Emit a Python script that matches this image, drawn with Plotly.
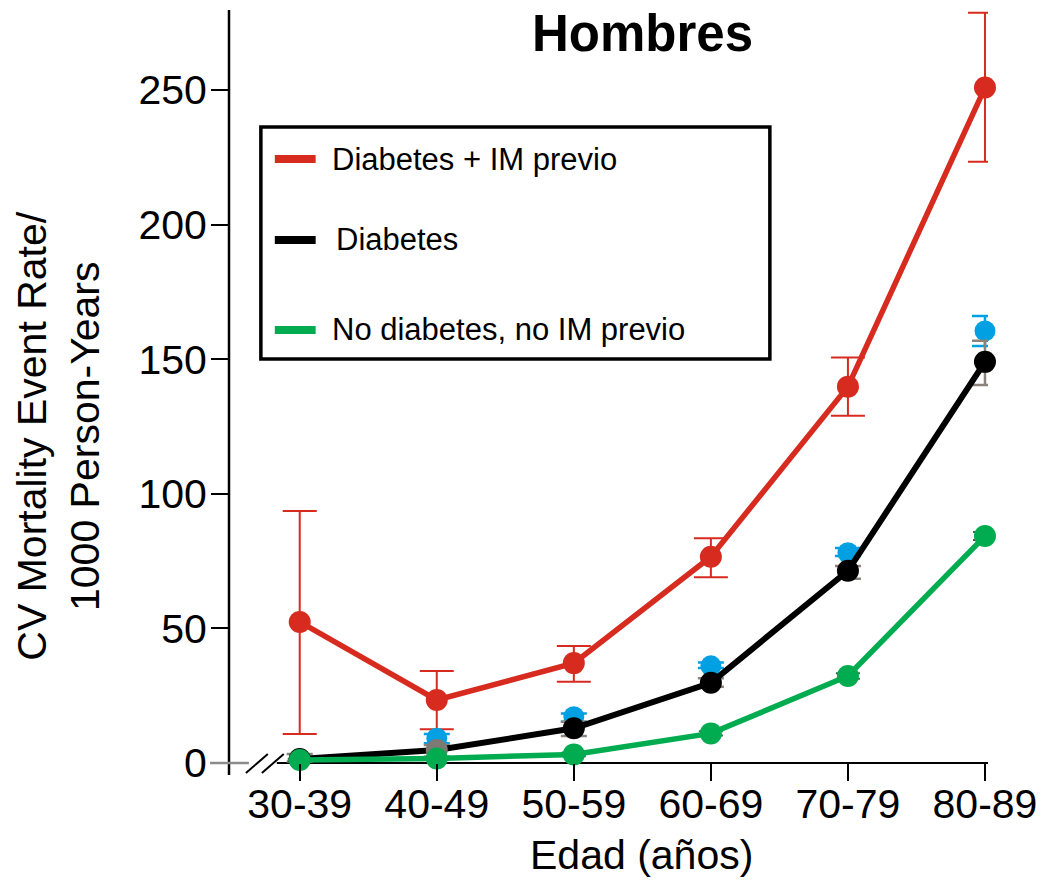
import plotly.graph_objects as go

# ---------------- data ----------------
categories = ["30-39", "40-49", "50-59", "60-69", "70-79", "80-89"]

red_vals = [52.4, 23.4, 37.1, 76.6, 139.8, 250.9]
red_hi = [93.6, 34.2, 43.5, 83.5, 150.6, 278.7]
red_lo = [10.8, 12.5, 30.2, 69.0, 129.0, 223.3]

black_vals = [1.5, 4.8, 12.9, 29.8, 71.4, 149.0]
black_hi = [3.3, 6.7, 15.3, 31.5, 73.2, 156.8]
black_lo = [0.6, 2.3, 10.0, 28.3, 68.4, 140.4]

blue_vals = [None, 9.2, 17.2, 36.1, 78.1, 160.5]
blue_hi = [None, 10.8, 18.4, 37.3, 79.9, 166.0]
blue_lo = [None, 7.3, 15.3, 35.3, 76.9, 154.9]

green_vals = [1.1, 1.7, 3.2, 11.0, 32.3, 84.3]
green_hi = [1.6, 2.3, 3.9, 11.8, 33.3, 85.8]
green_lo = [0.6, 1.1, 2.5, 10.2, 31.3, 82.8]

legend_labels = ["Diabetes + IM previo", "Diabetes", "No diabetes, no IM previo"]

y_tickvals = [0, 50, 100, 150, 200, 250]

# ---------------- styles ----------------
RED = "#d72b20"
BLACK = "#000000"
BLUE = "#00a0e3"
GREEN = "#00ac4f"
GREY = "#8a827b"
DKGREEN = "#2e6b4b"
FONT = "Liberation Sans, Arial, sans-serif"

W, H = 1047, 882
ML, MR, MT, MB = 229, 56, 10, 119
PW, PH = W - ML - MR, H - MT - MB


def px_x(px):
    return (px - ML) / PW


def px_y(py):
    return (H - MB - py) / PH


def err(vals, hi, lo):
    plus = [None if v is None else h - v for v, h in zip(vals, hi)]
    minus = [None if v is None else v - l for v, l in zip(vals, lo)]
    return plus, minus


fig = go.Figure()

rp, rm = err(red_vals, red_hi, red_lo)
fig.add_trace(go.Scatter(
    x=categories, y=red_vals, mode="lines+markers",
    line=dict(color=RED, width=5.5),
    marker=dict(color=RED, size=22),
    error_y=dict(type="data", symmetric=False, array=rp, arrayminus=rm,
                 color=RED, thickness=2, width=17),
    cliponaxis=False, showlegend=False, name=legend_labels[0]))

bp, bm = err(blue_vals, blue_hi, blue_lo)
fig.add_trace(go.Scatter(
    x=categories, y=blue_vals, mode="markers",
    marker=dict(color=BLUE, size=21),
    error_y=dict(type="data", symmetric=False, array=bp, arrayminus=bm,
                 color=BLUE, thickness=2.5, width=13),
    cliponaxis=False, showlegend=False, name="Diabetes (2)"))

kp, km = err(black_vals, black_hi, black_lo)
fig.add_trace(go.Scatter(
    x=categories, y=black_vals, mode="lines+markers",
    line=dict(color=BLACK, width=6),
    marker=dict(color=[BLACK, "#7d7a76", BLACK, BLACK, BLACK, BLACK], size=22),
    error_y=dict(type="data", symmetric=False, array=kp, arrayminus=km,
                 color=GREY, thickness=2.5, width=13),
    cliponaxis=False, showlegend=False, name=legend_labels[1]))

gp, gm = err(green_vals, green_hi, green_lo)
fig.add_trace(go.Scatter(
    x=categories, y=green_vals, mode="lines+markers",
    line=dict(color=GREEN, width=5.5),
    marker=dict(color=GREEN, size=22),
    error_y=dict(type="data", symmetric=False, array=gp, arrayminus=gm,
                 color=DKGREEN, thickness=2, width=12),
    cliponaxis=False, showlegend=False, name=legend_labels[2]))

shapes = []
# y axis line
shapes.append(dict(type="line", xref="paper", yref="paper",
                   x0=px_x(229), x1=px_x(229), y0=px_y(10), y1=px_y(775),
                   line=dict(color="black", width=2.5), layer="below"))
# x axis line (after break)
shapes.append(dict(type="line", xref="paper", yref="paper",
                   x0=px_x(277), x1=px_x(991), y0=px_y(763), y1=px_y(763),
                   line=dict(color="black", width=2), layer="below"))
# grey segment at zero, left of break
shapes.append(dict(type="line", xref="paper", yref="paper",
                   x0=px_x(210), x1=px_x(249), y0=px_y(763), y1=px_y(763),
                   line=dict(color="#8c8c8c", width=2.5), layer="above"))
# break slashes
for xa, xb in [(246, 268), (262, 284)]:
    shapes.append(dict(type="line", xref="paper", yref="paper",
                       x0=px_x(xa), x1=px_x(xb), y0=px_y(773), y1=px_y(754),
                       line=dict(color="black", width=2), layer="above"))
# legend box
shapes.append(dict(type="rect", xref="paper", yref="paper",
                   x0=px_x(261), x1=px_x(772), y0=px_y(127), y1=px_y(359),
                   line=dict(color="black", width=3.5), fillcolor="rgba(0,0,0,0)"))
# legend swatches
leg_y = [159, 240, 330]
leg_col = [RED, BLACK, GREEN]
for yy, cc in zip(leg_y, leg_col):
    shapes.append(dict(type="line", xref="paper", yref="paper",
                       x0=px_x(275), x1=px_x(316), y0=px_y(yy), y1=px_y(yy),
                       line=dict(color=cc, width=8)))

annotations = []
leg_x = [330, 334, 330]
for lab, yy, xx in zip(legend_labels, leg_y, leg_x):
    annotations.append(dict(text=lab, xref="paper", yref="paper",
                            x=px_x(xx), y=px_y(yy), xanchor="left", yanchor="middle",
                            showarrow=False, font=dict(family=FONT, size=31, color="black")))
annotations.append(dict(text="<b>Hombres</b>", xref="paper", yref="paper",
                        x=px_x(644), y=px_y(34), xanchor="center", yanchor="middle",
                        showarrow=False, font=dict(family=FONT, size=51, color="black")))
annotations.append(dict(text="Edad (años)", xref="paper", yref="paper",
                        x=px_x(643), y=px_y(855), xanchor="center", yanchor="middle",
                        showarrow=False, font=dict(family=FONT, size=41, color="black")))
annotations.append(dict(text="CV Mortality Event Rate/<br>1000 Person-Years",
                        xref="paper", yref="paper", textangle=-90,
                        x=px_x(58), y=px_y(436), xanchor="center", yanchor="middle",
                        showarrow=False, font=dict(family=FONT, size=41, color="black")))

fig.update_layout(
    width=W, height=H,
    margin=dict(l=ML, r=MR, t=MT, b=MB, pad=0),
    paper_bgcolor="white", plot_bgcolor="white",
    shapes=shapes, annotations=annotations,
    hovermode=False,
    xaxis=dict(type="category", range=[-0.516, 5.022], showgrid=False, zeroline=False,
               showline=False, ticks="outside", ticklen=17, tickwidth=2, tickcolor="black",
               ticklabelstandoff=-12,
               tickfont=dict(family=FONT, size=41, color="black"),
               categoryorder="array", categoryarray=categories),
    yaxis=dict(range=[0, 279.7], showgrid=False, zeroline=False, showline=False,
               tickvals=y_tickvals, ticks="outside", ticklen=17, tickwidth=2,
               ticklabelstandoff=-4,
               tickcolor="black", tickfont=dict(family=FONT, size=41, color="black")),
)

fig.write_html("out.html")
